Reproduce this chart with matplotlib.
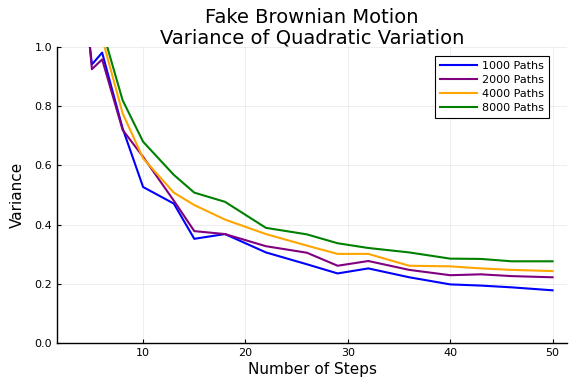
import matplotlib
matplotlib.use("Agg")
import matplotlib.pyplot as plt

steps = [3, 4, 5, 6, 8, 10, 13, 15, 18, 22, 26, 29, 32, 36, 40, 43, 46, 50]
var_1000 = [2.0, 1.25, 0.941, 0.981, 0.725, 0.527, 0.471, 0.352, 0.368, 0.306, 0.266, 0.235, 0.252, 0.222, 0.198, 0.194, 0.188, 0.178]
var_2000 = [2.2, 1.30, 0.925, 0.958, 0.720, 0.629, 0.481, 0.378, 0.368, 0.327, 0.305, 0.261, 0.277, 0.247, 0.229, 0.232, 0.226, 0.222]
var_4000 = [2.4, 1.60, 1.25, 1.03, 0.776, 0.624, 0.508, 0.466, 0.417, 0.368, 0.329, 0.301, 0.301, 0.261, 0.259, 0.252, 0.247, 0.243]
var_8000 = [2.6, 1.80, 1.35, 1.06, 0.820, 0.680, 0.568, 0.508, 0.477, 0.389, 0.367, 0.337, 0.321, 0.306, 0.285, 0.284, 0.276, 0.276]

series = [
    ("1000 Paths", var_1000, "#0000ff"),
    ("2000 Paths", var_2000, "#800080"),
    ("4000 Paths", var_4000, "#ffa500"),
    ("8000 Paths", var_8000, "#008000"),
]

fig = plt.figure(figsize=(5.73, 3.84), dpi=100)
ax = fig.add_axes([57 / 573, 1 - 343 / 384, (567 - 57) / 573, (343 - 47) / 384])

for label, vals, color in series:
    ax.plot(steps, vals, color=color, linewidth=1.5, label=label)

pad = 0.03 * (max(steps) - min(steps))
ax.set_xlim(min(steps) - pad, max(steps) + pad)
ax.set_ylim(0, 1)
ax.set_xticks([10, 20, 30, 40, 50])
ax.set_yticks([0.0, 0.2, 0.4, 0.6, 0.8, 1.0])
ax.set_yticklabels(["0.0", "0.2", "0.4", "0.6", "0.8", "1.0"])
ax.grid(True, color="black", alpha=0.08, linewidth=0.6)
ax.set_axisbelow(True)

for s in ["top", "right"]:
    ax.spines[s].set_visible(False)
for s in ["left", "bottom"]:
    ax.spines[s].set_linewidth(1.0)
ax.tick_params(direction="in", length=3, width=0.8, labelsize=8, colors="black")

ax.set_xlabel("Number of Steps", fontsize=11, labelpad=3)
ax.set_ylabel("Variance", fontsize=11, labelpad=7)
ax.set_title("Fake Brownian Motion\nVariance of Quadratic Variation", fontsize=14,
             linespacing=1.05, pad=0.0)

leg = ax.legend(loc="upper right", fontsize=8, frameon=True, fancybox=False,
                edgecolor="black", framealpha=1, handlelength=3.3, handletextpad=0.5,
                borderpad=0.45, labelspacing=0.38, bbox_to_anchor=(0.976, 0.99))
leg.get_frame().set_linewidth(0.8)

fig.savefig("out.png", dpi=100)
